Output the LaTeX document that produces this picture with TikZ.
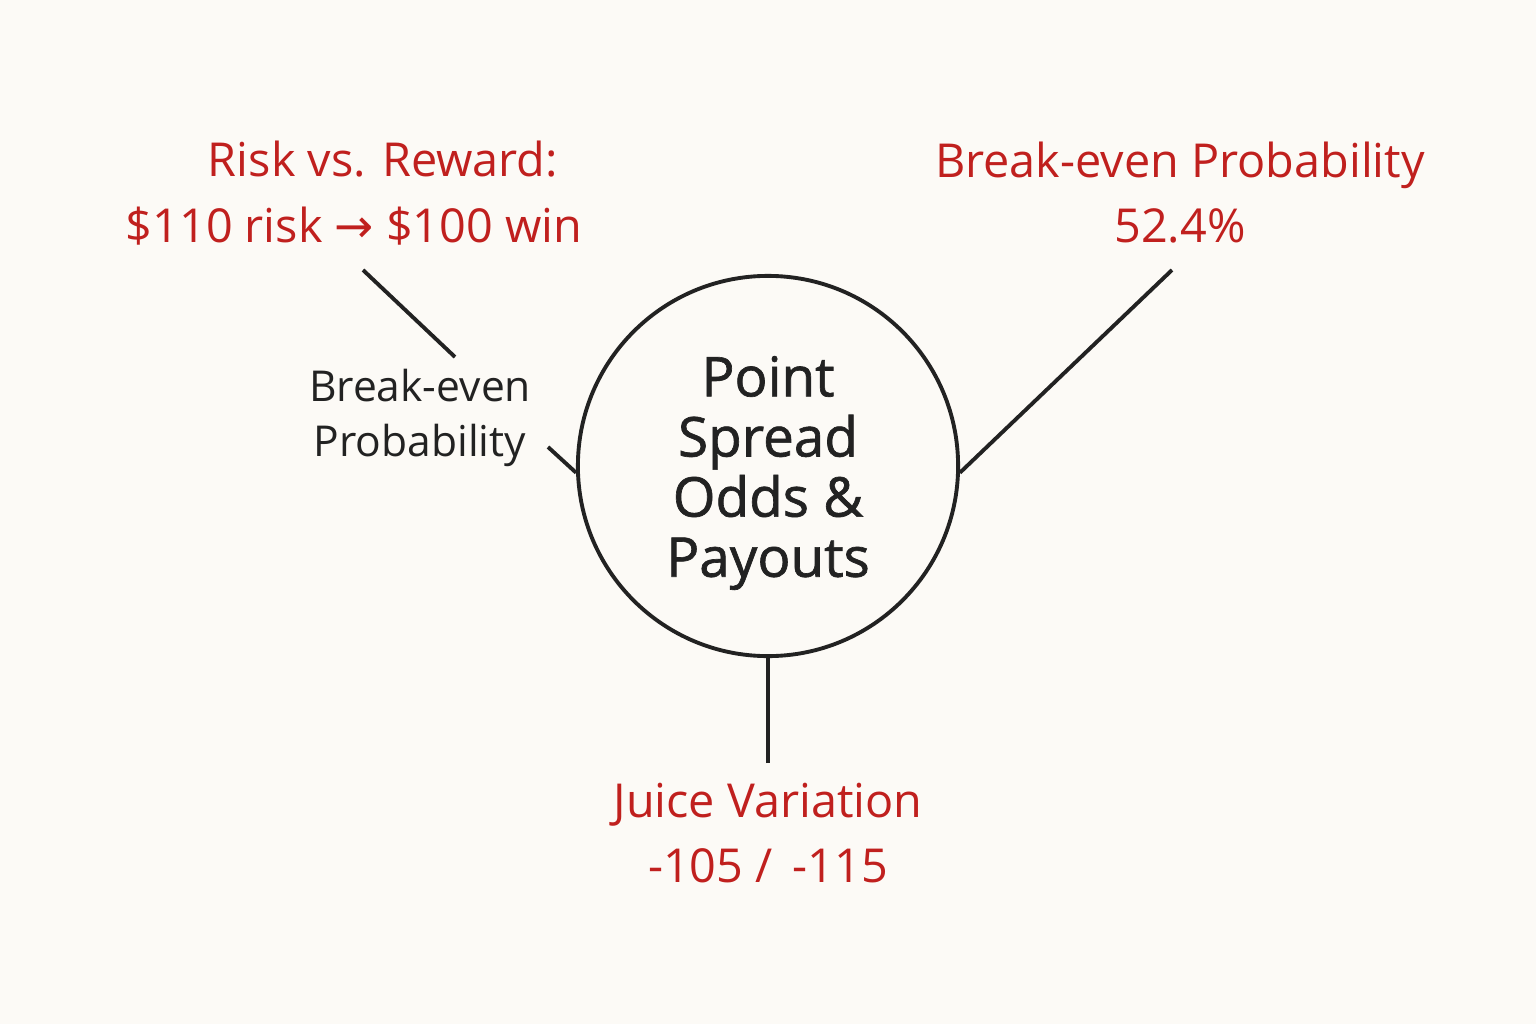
\documentclass[tikz,border=0pt]{standalone}
\usepackage{fontspec}
\setmainfont{Open Sans}
\newfontfamily\hubfont[FakeBold=1.2]{Open Sans}
\newfontfamily\symfont{DejaVu Sans}
\definecolor{bg}{HTML}{FCFAF6}
\definecolor{accent}{HTML}{C0201E}
\definecolor{ink}{HTML}{222222}
\begin{document}
\begin{tikzpicture}[x=0.01cm,y=-0.01cm,
  redlabel/.style={text=accent,font=\fontsize{13.3}{18.5}\selectfont,align=center,inner sep=0pt},
  sidelabel/.style={text=ink,font=\fontsize{12.1}{15.6}\selectfont,align=center,inner sep=0pt},
  hub/.style={circle,draw=ink,line width=1.1pt,minimum size=380*0.1mm,inner sep=0pt},
  hubtext/.style={text=ink,align=center,inner sep=0pt,font=\hubfont\fontsize{15.6}{17.1}\selectfont},
  link/.style={draw=ink,line width=1.1pt}]
\fill[bg] (0,0) rectangle (1536,1024);
\node[hub] (c) at (768,466) {};
\node[hubtext] (ct) at (768,473) {Point\\Spread\\Odds \&\\Payouts};
\node[redlabel,anchor=base] (rr1) at (383,176) {Risk vs. Reward:};
\node[redlabel,anchor=base] (rr2) at (354,242) {\$110 risk {\symfont→} \$100 win};
\node[redlabel] (be) at (1180,193) {Break-even Probability\\52.4\%};
\node[sidelabel] (bl) at (420,418) {Break-even\\Probability};
\node[redlabel] (jv) at (768,833) {Juice Variation\\-105 / \,-115};
\coordinate (a1) at (363,270);
\coordinate (a2) at (455,357);
\coordinate (b1) at (548,447);
\coordinate (r1) at (1172,270);
\coordinate (j1) at (768,763);
\draw[link] (a1) -- (a2);
\draw[link] (b1) -- (c.182);
\draw[link] (r1) -- (c.-2);
\draw[link] (j1) -- (c.south);
\end{tikzpicture}
\end{document}
